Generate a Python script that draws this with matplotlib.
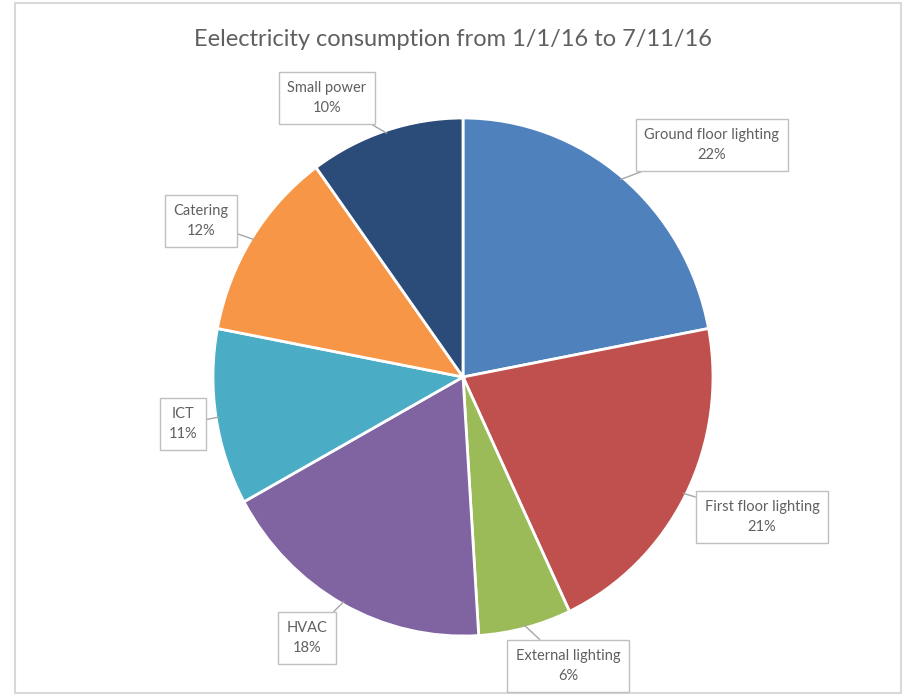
import matplotlib
matplotlib.use("Agg")
import matplotlib.pyplot as plt
import numpy as np
from matplotlib.patches import Rectangle
from matplotlib.transforms import Affine2D

# Data
categories = ["Ground floor lighting", "First floor lighting", "External lighting",
              "HVAC", "ICT", "Catering", "Small power"]
shares = [22, 21, 6, 18, 11, 12, 10]
colors = ["#4F81BD", "#C0504D", "#9BBB59", "#8064A2", "#4BACC6", "#F79646", "#2B4B78"]

W, H = 906, 695
TEXT = "#606060"
BOX_EDGE = "#BFBFBF"

# label box centres (pixel coordinates, y from top)
label_pos = [(712, 145), (762, 517), (568, 666), (307, 638),
             (183, 424), (201, 221), (327, 98)]

fig = plt.figure(figsize=(W / 100, H / 100), dpi=100)
ax = fig.add_axes([0, 0, 1, 1])

# faint chart frame
ax.add_patch(Rectangle((15, 2), 886, 690, fill=False, edgecolor="#D9D9D9", linewidth=1.5))

cx, cy, r = 463, H - 377, 250
stretch = 259 / 250  # the pie in the reference is a touch taller than wide
wedges, _ = ax.pie(shares, colors=colors, startangle=90, counterclock=False,
                   center=(cx, cy), radius=r, frame=True,
                   wedgeprops=dict(edgecolor="white", linewidth=2))
squash = Affine2D().translate(-cx, -cy).scale(1, stretch).translate(cx, cy)
for w in wedges:
    w.set_transform(squash + ax.transData)

ax.set_xlim(0, W)
ax.set_ylim(0, H)
ax.set_aspect("auto")
ax.axis("off")

for w, name, share, (lx, ly) in zip(wedges, categories, shares, label_pos):
    mid = np.deg2rad((w.theta1 + w.theta2) / 2)
    px = cx + r * 0.99 * np.cos(mid)
    py = cy + r * stretch * 0.99 * np.sin(mid)
    ax.annotate(f"{name}\n{share}%", xy=(px, py), xytext=(lx, H - ly),
                ha="center", va="center", fontsize=10.5, color=TEXT,
                family=["Lato", "DejaVu Sans"], linespacing=1.6,
                bbox=dict(boxstyle="square,pad=0.6", facecolor="white",
                          edgecolor=BOX_EDGE, linewidth=1),
                arrowprops=dict(arrowstyle="-", color="#A6A6A6", linewidth=1,
                                shrinkA=0, shrinkB=0))

ax.text(W / 2, H - 40, "Eelectricity consumption from 1/1/16 to 7/11/16",
        ha="center", va="center", fontsize=17, color=TEXT,
        family=["Lato", "DejaVu Sans"])

fig.savefig("out.png", dpi=100, facecolor="white")
